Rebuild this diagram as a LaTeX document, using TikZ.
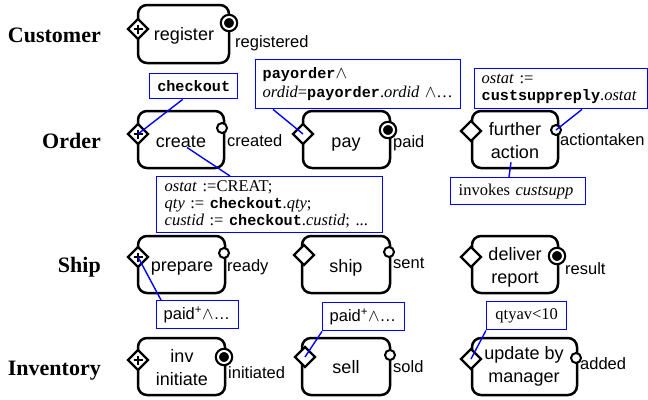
\documentclass[tikz,border=0pt]{standalone}
\usepackage{fontspec}
\setmainfont{Liberation Serif}
\setsansfont{Liberation Sans}
\setmonofont[Scale=0.92]{Liberation Mono}
\usetikzlibrary{shapes.geometric,calc}
\tikzset{
  actbox/.style={draw, line width=2.5pt, rounded corners=9pt, fill=white, inner sep=0pt},
  btext/.style={font=\sffamily\fontsize{18}{23}\selectfont, align=center, inner sep=0pt, anchor=base},
  gate/.style={diamond, draw, line width=2.3pt, fill=white, minimum size=21pt, inner sep=0pt},
  pgate/.style={gate, path picture={
      \draw[line width=1.6pt] ($(path picture bounding box.center)+(-4.5pt,0pt)$) -- ++(9pt,0pt)
        ($(path picture bounding box.center)+(0pt,-4.5pt)$) -- ++(0pt,9pt);}},
  oport/.style={circle, draw, line width=2pt, fill=white, minimum size=10pt, inner sep=0pt},
  fport/.style={circle, draw=black, fill=black, double=white, double distance=2pt,
    line width=2.2pt, minimum size=12pt, inner sep=0pt},
  lbl/.style={font=\sffamily\fontsize{16.5}{18}\selectfont, inner sep=0pt, anchor=west},
  role/.style={font=\bfseries\fontsize{22}{24}\selectfont, anchor=base east, inner sep=0pt},
  note/.style={draw=blue, line width=1.4pt, fill=white, font=\fontsize{16.5}{17}\selectfont,
    align=left, inner xsep=7pt, inner ysep=0pt, anchor=north west},
  link/.style={blue, line width=1.4pt}
}
\begin{document}
\begin{tikzpicture}[x=1pt,y=-1pt]
\useasboundingbox (0,0) rectangle (648,399);
% role labels
\node[role] (rcust) at (101,42) {Customer};
\node[role] (rord) at (101,148) {Order};
\node[role] (rship) at (101,272) {Ship};
\node[role] (rinv) at (101,375) {Inventory};
% boxes
\node[actbox, minimum width=91pt, minimum height=58pt] (register) at (183.5,34) {};
\node[actbox, minimum width=86pt, minimum height=57pt] (create) at (181,139.5) {};
\node[actbox, minimum width=87pt, minimum height=57pt] (pay) at (346.5,139.5) {};
\node[actbox, minimum width=86pt, minimum height=57pt] (further) at (515,139.5) {};
\node[actbox, minimum width=87pt, minimum height=57pt] (prepare) at (181.5,264.5) {};
\node[actbox, minimum width=88pt, minimum height=57pt] (ship) at (346,264.5) {};
\node[actbox, minimum width=86pt, minimum height=57pt] (deliver) at (515,264.5) {};
\node[actbox, minimum width=87pt, minimum height=57pt] (inv) at (181.5,366.5) {};
\node[actbox, minimum width=88pt, minimum height=57pt] (sell) at (346,366.5) {};
\node[actbox, minimum width=105pt, minimum height=57pt] (update) at (524.5,366.5) {};
% box texts (base = baseline of last line)
\node[btext] (register-t) at (184,40) {register};
\node[btext] (create-t) at (181,147) {create};
\node[btext] (pay-t) at (346,147.5) {pay};
\node[btext] (further-t) at (515,158) {further\\action};
\node[btext] (prepare-t) at (182,271.5) {prepare};
\node[btext] (ship-t) at (346,272) {ship};
\node[btext] (deliver-t) at (515,283) {deliver\\report};
\node[btext] (inv-t) at (182,385) {inv\\initiate};
\node[btext] (sell-t) at (346,373) {sell};
\node[btext] (update-t) at (524,382.5) {update by\\manager};
% gates
\node[pgate] (register-d) at (138,29) {};
\node[pgate] (create-d) at (138,134) {};
\node[gate] (pay-d) at (303,134) {};
\node[gate] (further-d) at (471,131) {};
\node[pgate] (prepare-d) at (138,257) {};
\node[gate] (ship-d) at (304,255) {};
\node[gate] (deliver-d) at (471,257) {};
\node[pgate] (inv-d) at (138,360) {};
\node[gate] (sell-d) at (305,357) {};
\node[gate] (update-d) at (471,359) {};
% ports
\node[fport] (register-c) at (229,23) {};
\node[oport] (create-c) at (222,128) {};
\node[fport] (pay-c) at (388,130) {};
\node[oport] (further-c) at (556,130) {};
\node[oport] (prepare-c) at (224,253) {};
\node[oport] (ship-c) at (389,252) {};
\node[fport] (deliver-c) at (557,256) {};
\node[fport] (inv-c) at (224,357) {};
\node[oport] (sell-c) at (390,355) {};
\node[oport] (update-c) at (576,358) {};
% port labels
\node[lbl] (register-l) at (235,43) {registered};
\node[lbl] (create-l) at (227,141) {created};
\node[lbl] (pay-l) at (393,143) {paid};
\node[lbl] (further-l) at (560,140) {actiontaken};
\node[lbl] (prepare-l) at (227,267) {ready};
\node[lbl] (ship-l) at (393,263) {sent};
\node[lbl] (deliver-l) at (565,269) {result};
\node[lbl] (inv-l) at (228,373) {initiated};
\node[lbl] (sell-l) at (393,367) {sold};
\node[lbl] (update-l) at (580,364) {added};
% notes
\node[note, align=center, text width=74pt, minimum height=25pt] (nck) at (149,73) {\texttt{\textbf{checkout}}};
\node[note, text width=191pt, minimum height=49pt] (npo) at (255,59)
  {\texttt{\textbf{payorder}}$\wedge$\\[2pt]\textit{ordid}=\texttt{\textbf{payorder}}.\textit{ordid} $\wedge$\dots};
\node[note, text width=159pt, minimum height=40pt] (ncs) at (474,68)
  {\textit{ostat} :=\\\texttt{\textbf{custsuppreply}}.\textit{ostat}};
\node[note, inner xsep=8pt, text width=210pt, minimum height=56pt] (ncr) at (156,176)
  {\textit{ostat} :=CREAT;\\\textit{qty} := \texttt{\textbf{checkout}}.\textit{qty};\\\textit{custid} := \texttt{\textbf{checkout}}.\textit{custid}; ...};
\node[note, inner xsep=8pt, text width=119pt, minimum height=27pt] (niv) at (450,177) {invokes \textit{custsupp}};
\node[note, text width=68pt, minimum height=28pt, font=\sffamily\fontsize{16.5}{17}\selectfont] (np1) at (156,300) {paid\textsuperscript{+}$\wedge$\dots};
\node[note, text width=68pt, minimum height=28pt, font=\sffamily\fontsize{16.5}{17}\selectfont] (np2) at (322,302) {paid\textsuperscript{+}$\wedge$\dots};
\node[note, align=center, text width=66pt, minimum height=28pt] (nq) at (486,301) {qtyav<10};
% links
\draw[link] ($(nck.south)+(-11,0)$) -- (create-d.center);
\draw[link] ($(npo.south west)+(18,0)$) -- (pay-d.center);
\draw[link] ($(ncs.south west)+(108,0)$) -- (further-c.center);
\draw[link] ($(ncr.north west)+(74,0)$) -- ($(create.center)+(6,8)$);
\draw[link] ($(niv.north west)+(59,0)$) -- ($(further.south)+(-4,-7)$);
\draw[link] ($(np1.north west)+(5,0)$) -- (prepare-d.center);
\draw[link] (np2.south west) -- (sell-d.center);
\draw[link] (nq.south west) -- (update-d.center);
\end{tikzpicture}
\end{document}
